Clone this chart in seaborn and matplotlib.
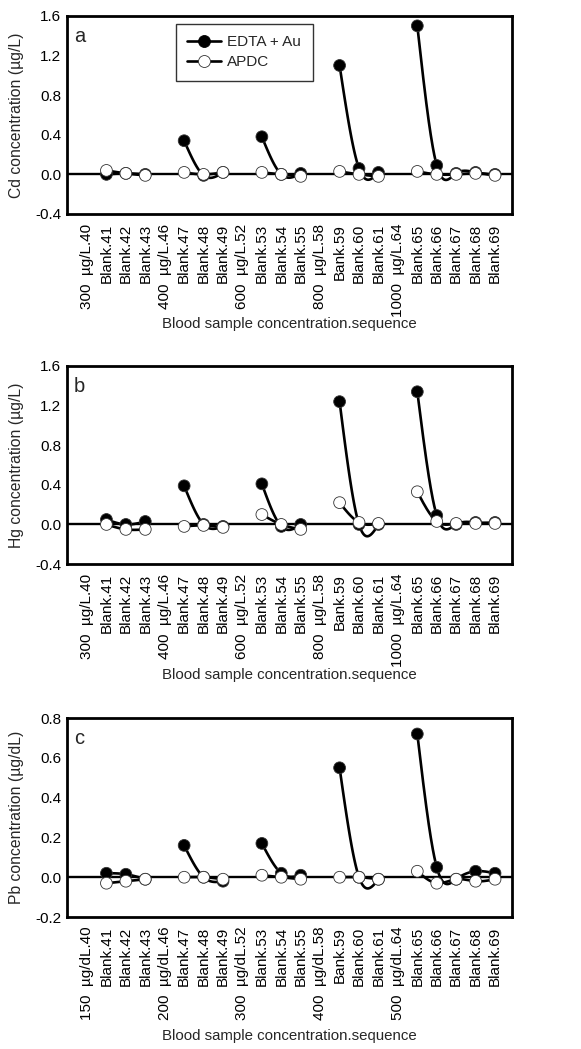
import numpy as np
import pandas as pd
import matplotlib
matplotlib.use("Agg")
import matplotlib.pyplot as plt
from matplotlib.lines import Line2D
import seaborn as sns

# ── Data (NaN = spiked blood sample, not plotted) ─────────────────────────────
nan = np.nan
labels_ugL = ["300  µg/L.40", "Blank.41", "Blank.42", "Blank.43", "400  µg/L.46",
              "Blank.47", "Blank.48", "Blank.49", "600  µg/L.52", "Blank.53",
              "Blank.54", "Blank.55", "800  µg/L.58", "Bank.59", "Blank.60",
              "Blank.61", "1000  µg/L.64", "Blank.65", "Blank.66", "Blank.67",
              "Blank.68", "Blank.69"]
labels_ugdL = ["150  µg/dL.40", "Blank.41", "Blank.42", "Blank.43", "200  µg/dL.46",
               "Blank.47", "Blank.48", "Blank.49", "300  µg/dL.52", "Blank.53",
               "Blank.54", "Blank.55", "400  µg/dL.58", "Bank.59", "Blank.60",
               "Blank.61", "500  µg/dL.64", "Blank.65", "Blank.66", "Blank.67",
               "Blank.68", "Blank.69"]

cd_edta = [nan, 0.00, 0.01, 0.00, nan, 0.34, -0.01, 0.02, nan, 0.38, 0.00, 0.01,
           nan, 1.10, 0.06, 0.02, nan, 1.50, 0.09, 0.01, 0.02, 0.00]
cd_apdc = [nan, 0.04, 0.01, -0.01, nan, 0.02, 0.00, 0.02, nan, 0.02, 0.00, -0.02,
           nan, 0.03, 0.00, -0.02, nan, 0.03, 0.00, 0.00, 0.01, -0.01]
hg_edta = [nan, 0.05, 0.00, 0.03, nan, 0.39, 0.00, -0.02, nan, 0.41, -0.02, 0.00,
           nan, 1.24, 0.00, 0.00, nan, 1.34, 0.09, 0.00, 0.02, 0.02]
hg_apdc = [nan, 0.00, -0.05, -0.05, nan, -0.02, -0.01, -0.03, nan, 0.10, 0.00, -0.05,
           nan, 0.22, 0.02, 0.01, nan, 0.33, 0.03, 0.01, 0.01, 0.01]
pb_edta = [nan, 0.02, 0.015, -0.01, nan, 0.16, 0.00, -0.02, nan, 0.17, 0.02, 0.01,
           nan, 0.55, 0.00, -0.01, nan, 0.72, 0.05, -0.01, 0.03, 0.02]
pb_apdc = [nan, -0.03, -0.02, -0.01, nan, 0.00, 0.00, -0.01, nan, 0.01, 0.00, -0.01,
           nan, 0.00, 0.00, -0.01, nan, 0.03, -0.03, -0.01, -0.02, -0.01]

methods = ["EDTA + Au", "APDC"]

panels = [
    ("a", "Cd concentration (µg/L)", labels_ugL, cd_edta, cd_apdc, (-0.4, 1.6), 0.4),
    ("b", "Hg concentration (µg/L)", labels_ugL, hg_edta, hg_apdc, (-0.4, 1.6), 0.4),
    ("c", "Pb concentration (µg/dL)", labels_ugdL, pb_edta, pb_apdc, (-0.2, 0.8), 0.2),
]


def natural_spline(x, y, n=40):
    """Natural cubic spline through the points (the original uses spline lines)."""
    x = np.asarray(x, float)
    y = np.asarray(y, float)
    k = len(x)
    if k < 3:
        return x, y
    h = np.diff(x)
    A = np.zeros((k, k))
    r = np.zeros(k)
    A[0, 0] = A[-1, -1] = 1
    for i in range(1, k - 1):
        A[i, i - 1] = h[i - 1]
        A[i, i] = 2 * (h[i - 1] + h[i])
        A[i, i + 1] = h[i]
        r[i] = 6 * ((y[i + 1] - y[i]) / h[i] - (y[i] - y[i - 1]) / h[i - 1])
    M = np.linalg.solve(A, r)
    xs, ys = [], []
    for i in range(k - 1):
        t = np.linspace(x[i], x[i + 1], n)
        a = (x[i + 1] - t) / h[i]
        b = (t - x[i]) / h[i]
        s = a * y[i] + b * y[i + 1] + ((a**3 - a) * M[i] + (b**3 - b) * M[i + 1]) * h[i] ** 2 / 6
        xs.append(t)
        ys.append(s)
    return np.concatenate(xs), np.concatenate(ys)


def build_frames(edta, apdc):
    pts, curves = [], []
    for method, vals in zip(methods, [edta, apdc]):
        vals = np.asarray(vals, float)
        pos = np.arange(len(vals))
        df = pd.DataFrame({"x": pos, "y": vals, "method": method}).dropna()
        pts.append(df)
        # contiguous runs of blanks -> one smooth segment each
        seg_id = (df["x"].diff() != 1).cumsum()
        for sid, g in df.groupby(seg_id):
            cx, cy = natural_spline(g["x"], g["y"])
            curves.append(pd.DataFrame({"x": cx, "y": cy, "method": method,
                                        "seg": f"{method}-{sid}"}))
    return pd.concat(pts, ignore_index=True), pd.concat(curves, ignore_index=True)


# ── Figure ────────────────────────────────────────────────────────────────────
sns.set_theme(style="white")
plt.rcParams["font.family"] = ["Liberation Sans", "DejaVu Sans"]
plt.rcParams["font.size"] = 11

fig = plt.figure(figsize=(5.81, 10.49), dpi=100)
boxes = [(0.1153, 0.7960, 0.766, 0.1888),
         (0.1153, 0.4623, 0.766, 0.1888),
         (0.1153, 0.1258, 0.766, 0.1897)]
xlabel_y = [-0.518, -0.527, -0.565]

for (letter, ylab, xlabels, edta, apdc, ylim, ystep), box, xly in zip(panels, boxes, xlabel_y):
    ax = fig.add_axes(box)
    pts, curves = build_frames(edta, apdc)

    ax.axhline(0, color="black", lw=1.7, zorder=1)
    for method in methods:
        sns.lineplot(data=curves[curves["method"] == method], x="x", y="y",
                     units="seg", estimator=None, sort=False, color="black",
                     lw=1.9, legend=False, ax=ax, zorder=2)
    sns.scatterplot(data=pts, x="x", y="y", hue="method", hue_order=methods,
                    palette={"EDTA + Au": "black", "APDC": "white"},
                    edgecolor="#333333", linewidth=0.6, s=72, legend=False,
                    ax=ax, zorder=3)

    ax.set_xlim(-1.03, len(xlabels) - 1 + 0.875)
    ax.set_ylim(*ylim)
    ax.set_xticks(range(len(xlabels)))
    ax.set_xticklabels(xlabels, rotation=90)
    ax.set_yticks(np.round(np.arange(ylim[0], ylim[1] + ystep / 2, ystep), 2))
    ax.yaxis.set_major_formatter(matplotlib.ticker.FormatStrFormatter("%.1f"))
    ax.tick_params(axis="both", direction="in", length=7.5, width=1.6,
                   labelsize=11, colors="black")
    ax.tick_params(axis="x", pad=7)
    ax.tick_params(axis="y", pad=4)
    for sp in ax.spines.values():
        sp.set_linewidth(2)
        sp.set_color("black")

    ax.set_xlabel("Blood sample concentration.sequence", fontsize=10.8)
    ax.xaxis.set_label_coords(0.5, xly)
    ax.set_ylabel(ylab, fontsize=11.3)
    ax.yaxis.set_label_coords(-0.097, 0.5)
    ax.text(0.016, 0.945, letter, transform=ax.transAxes, fontsize=14.5,
            ha="left", va="top")

    if letter == "a":
        handles = [
            Line2D([], [], color="black", lw=1.9, marker="o", markersize=8.6,
                   markerfacecolor="black", markeredgecolor="black", markeredgewidth=0.6),
            Line2D([], [], color="black", lw=1.9, marker="o", markersize=8.6,
                   markerfacecolor="white", markeredgecolor="#333333", markeredgewidth=0.6),
        ]
        leg = ax.legend(handles, methods, loc="upper left",
                        bbox_to_anchor=(0.245, 0.96), frameon=True, fancybox=False,
                        fontsize=11, handlelength=2.2, handletextpad=0.4,
                        borderpad=0.75, labelspacing=0.4, borderaxespad=0)
        leg.get_frame().set_edgecolor("black")
        leg.get_frame().set_linewidth(1.0)

fig.savefig("out.png", dpi=100)
